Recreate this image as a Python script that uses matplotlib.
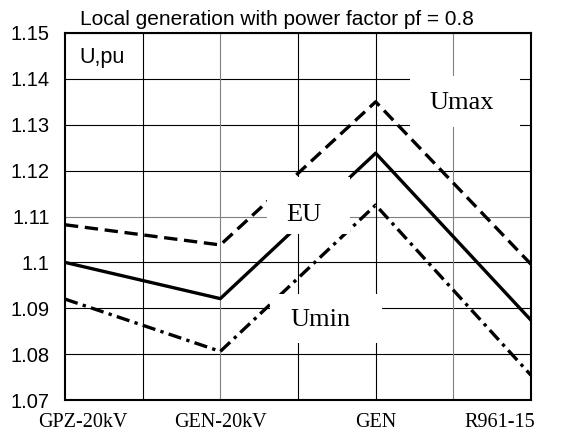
import matplotlib.pyplot as plt
import matplotlib.patches as mpatches
import numpy as np

# bus names and voltages (p.u.)
buses = ['GPZ-20kV', 'GEN-20kV', 'GEN', 'R961-15']
label_pos = [0.113, 1.0, 2.0, 2.80]
x = [0, 1, 2, 3]
u_max = [1.1082, 1.1038, 1.1350, 1.0996]
u_eu = [1.1000, 1.0921, 1.1238, 1.0874]
u_min = [1.0920, 1.0806, 1.1125, 1.0754]
yticks = [1.07, 1.08, 1.09, 1.10, 1.11, 1.12, 1.13, 1.14, 1.15]
ytick_labels = ['1.07', '1.08', '1.09', '1.1', '1.11', '1.12', '1.13', '1.14', '1.15']
xgrid = [0.5, 1.0, 1.5, 2.0, 2.5]

sans = 'Liberation Sans'
serif = 'Liberation Serif'

fig = plt.figure(figsize=(5.65, 4.34), dpi=100)
ax = fig.add_axes([0.1150, 0.0783, 0.8248, 0.8457])

ax.plot(x, u_max, color='k', lw=2.4, ls=(0, (4, 2)), zorder=3)
ax.plot(x, u_eu, color='k', lw=2.4, ls='-', zorder=3)
ax.plot(x, u_min, color='k', lw=2.4, ls=(0, (4, 1.6, 1, 1.6)), zorder=3)

ax.set_xlim(0, 3)
ax.set_ylim(1.07, 1.15)

# ticks and grid
ax.set_yticks(yticks)
ax.set_yticklabels(ytick_labels, family=sans, fontsize=14.5)
ax.set_xticks(label_pos)
ax.set_xticklabels(buses, family=serif, fontsize=14.5)
ax.tick_params(axis='both', which='both', length=0)
ax.tick_params(axis='y', pad=11)
ax.tick_params(axis='x', pad=9)
ax.grid(True, axis='y', color='k', lw=0.8)
ax.yaxis.get_gridlines()[4].set_color('#808080')
for gx in xgrid:
    c = '#808080' if gx in (1.0, 2.5) else 'k'
    ax.axvline(gx, color=c, lw=0.8, zorder=1)
ax.set_axisbelow(True)
for s in ax.spines.values():
    s.set_linewidth(1.5)
    s.set_zorder(6)

# white label boxes over the lines
boxes = [(2.221, 1.1295, 0.708, 0.0111),
         (1.300, 1.1062, 0.535, 0.0124),
         (1.320, 1.0824, 0.721, 0.0107)]
for bx, by, bw, bh in boxes:
    ax.add_patch(mpatches.Rectangle((bx, by), bw, bh, facecolor='white',
                                    edgecolor='none', zorder=4))

ax.text(2.556, 1.1347, 'Umax', family=serif, fontsize=19, ha='center', va='center', zorder=5)
ax.text(1.539, 1.1103, 'EU', family=serif, fontsize=19, ha='center', va='center', zorder=5)
ax.text(1.642, 1.0874, 'Umin', family=serif, fontsize=19, ha='center', va='center', zorder=5)
ax.text(0.092, 1.1435, 'U,pu', family=sans, fontsize=15.5, ha='left', va='baseline', zorder=5)

fig.text(0.49, 0.942, 'Local generation with power factor pf = 0.8',
         family=sans, fontsize=15, ha='center', va='baseline')

fig.savefig('out.png', dpi=100)
